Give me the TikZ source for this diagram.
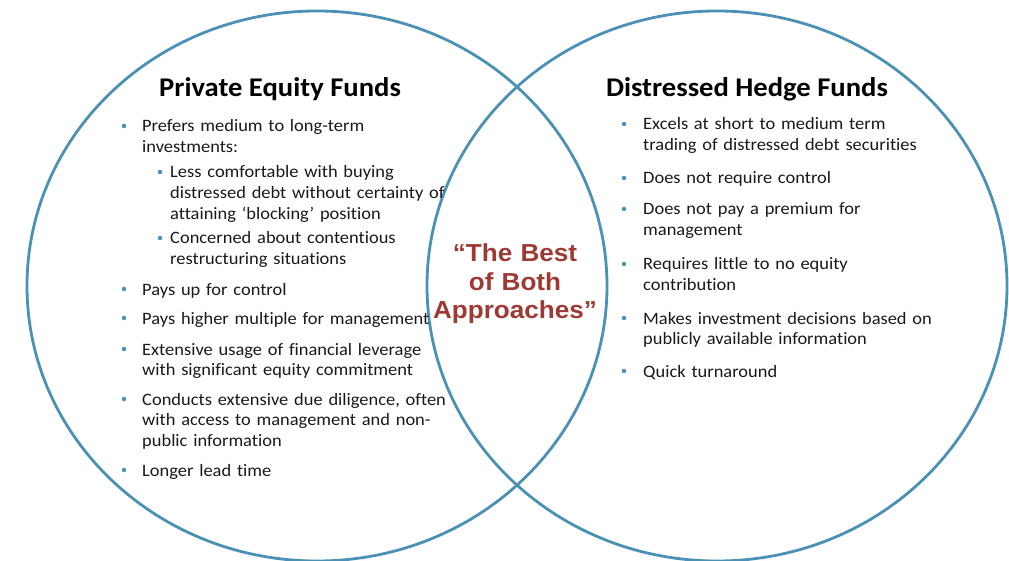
\documentclass[tikz,border=0pt]{standalone}
\usepackage{fontspec}
\setmainfont{Carlito}[FakeStretch=1.06, Ligatures=NoCommon, RawFeature=-liga]
\newfontfamily\arialfont{Liberation Sans}[FakeStretch=1.06]
\definecolor{ringblue}{RGB}{74,145,181}
\definecolor{quotered}{RGB}{158,58,52}

\begin{document}
\begin{tikzpicture}[
    x=1pt, y=-1pt,
    ring/.style={draw=ringblue, line width=2.8pt},
    head/.style={font=\fontsize{27}{32}\selectfont\bfseries, anchor=base, inner sep=0},
    item/.style={font=\fontsize{17.4}{20.7}\selectfont, text=black!90, anchor=base west, align=left, text width=340pt, inner sep=0},
    dot/.style={circle, fill=ringblue, inner sep=0, minimum size=4.5pt},
    quote/.style={font=\arialfont\fontsize{24.6}{28.5}\selectfont\bfseries, text=quotered, anchor=base, align=center, text width=200pt, inner sep=0}
]
\useasboundingbox (0,0) rectangle (1009,561);

% the two sets
\draw[ring] (317,286) ellipse [x radius=290pt, y radius=275pt];
\draw[ring] (717,286) ellipse [x radius=290pt, y radius=275pt];

% titles
\node[head] (pe) at (280,97) {Private Equity Funds};
\node[head] (dh) at (747,97) {Distressed Hedge Funds};

% left side
\node[item] (p1) at (142,132) {Prefers medium to long-term\\investments:};
\node[item] (s1) at (170,178) {Less comfortable with buying\\distressed debt without certainty of\\attaining ‘blocking’ position};
\node[item] (s2) at (170,244) {Concerned about contentious\\restructuring situations};
\node[item] (p2) at (142,295) {Pays up for control};
\node[item] (p3) at (142,324) {Pays higher multiple for management};
\node[item] (p4) at (142,355) {Extensive usage of financial leverage\\with significant equity commitment};
\node[item] (p5) at (142,405) {Conducts extensive due diligence, often\\with access to management and non-\\public information};
\node[item] (p6) at (142,476) {Longer lead time};

\foreach \n in {p1,p2,p3,p4,p5,p6}
    \node[dot] at ([xshift=-18pt,yshift=6pt]\n.base west) {};
\foreach \n in {s1,s2}
    \node[dot] at ([xshift=-10pt,yshift=6pt]\n.base west) {};

% right side
\node[item] (q1) at (643,130) {Excels at short to medium term\\trading of distressed debt securities};
\node[item] (q2) at (643,184) {Does not require control};
\node[item] (q3) at (643,215) {Does not pay a premium for\\management};
\node[item] (q4) at (643,270) {Requires little to no equity\\contribution};
\node[item] (q5) at (643,324) {Makes investment decisions based on\\publicly available information};
\node[item] (q6) at (643,377) {Quick turnaround};

\foreach \n in {q1,q2,q3,q4,q5,q6}
    \node[dot] at ([xshift=-19pt,yshift=6pt]\n.base west) {};

% overlap
\node[quote] (best) at (515,262) {“The Best\\of Both\\Approaches”};

\end{tikzpicture}
\end{document}
